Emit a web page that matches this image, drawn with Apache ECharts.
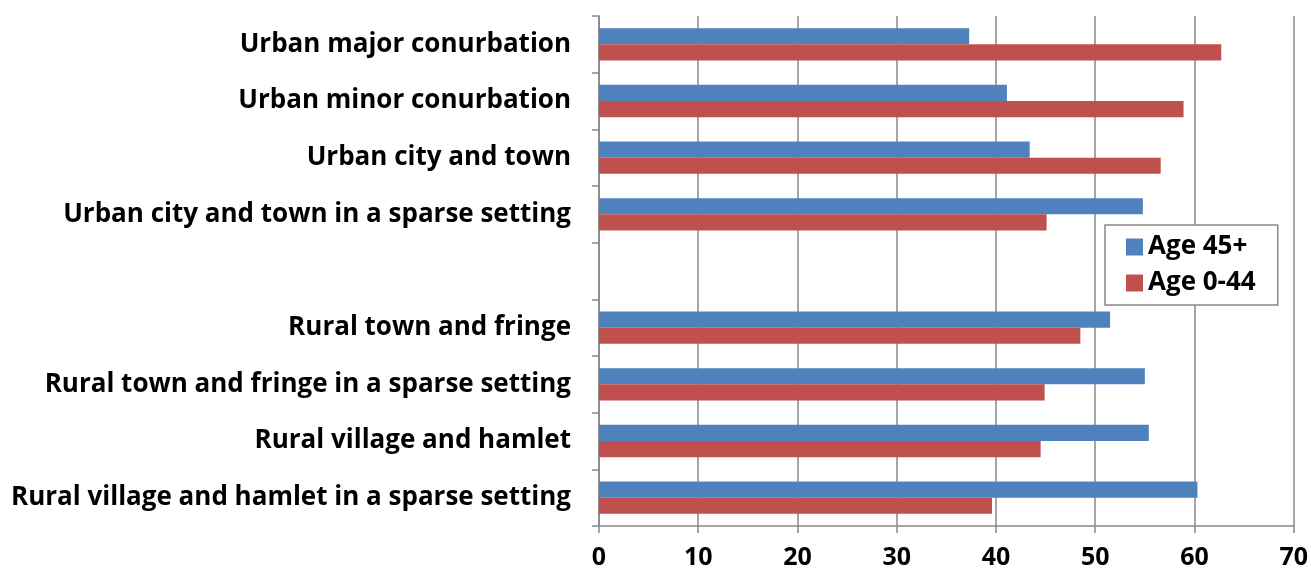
<!DOCTYPE html>
<html><head><meta charset="utf-8">
<script src="https://cdn.jsdelivr.net/npm/echarts@6/dist/echarts.min.js"></script>
<style>html,body{margin:0;padding:0;background:#fff}#c{width:1311px;height:578px}</style>
</head><body><div id="c"></div>
<script>
const categories = [
  'Urban major conurbation',
  'Urban minor conurbation',
  'Urban city and town',
  'Urban city and town in a sparse setting',
  '',
  'Rural town and fringe',
  'Rural town and fringe in a sparse setting',
  'Rural village and hamlet',
  'Rural village and hamlet in a sparse setting'
];
const age45plus = [37.3, 41.1, 43.4, 54.8, null, 51.5, 55.0, 55.4, 60.3];
const age0to44 = [62.7, 58.9, 56.6, 45.1, null, 48.5, 44.9, 44.5, 39.6];
const xTicks = [0, 10, 20, 30, 40, 50, 60, 70];

const FONT = 'Open Sans';
const chart = echarts.init(document.getElementById('c'), null, {renderer: 'canvas'});
chart.setOption({
  animation: false,
  textStyle: {fontFamily: FONT},
  grid: {left: 599, right: 15, top: 16, bottom: 52, containLabel: false},
  legend: {
    orient: 'vertical',
    left: 1105, top: 225,
    padding: [9, 22, 9, 21],
    borderColor: '#888', borderWidth: 1.5,
    backgroundColor: '#fff',
    itemWidth: 17, itemHeight: 17, itemGap: 10,
    icon: 'rect',
    textStyle: {fontFamily: FONT, fontWeight: 'bold', fontSize: 26, color: '#000'},
    data: ['Age 45+', 'Age 0-44']
  },
  xAxis: {
    type: 'value', min: xTicks[0], max: xTicks[xTicks.length - 1], interval: 10,
    axisLine: {show: true, lineStyle: {color: '#888', width: 1.5}},
    axisTick: {show: true, length: 7, lineStyle: {color: '#888', width: 1.5}},
    splitLine: {show: true, lineStyle: {color: '#888', width: 1.5}},
    axisLabel: {fontFamily: FONT, fontWeight: 'bold', fontSize: 25, color: '#000', margin: 19}
  },
  yAxis: {
    type: 'category', data: categories, inverse: true,
    axisLine: {show: true, lineStyle: {color: '#888', width: 1.5}},
    axisTick: {show: true, length: 7, lineStyle: {color: '#888', width: 1.5}},
    axisLabel: {fontFamily: FONT, fontWeight: 'bold', fontSize: 26, color: '#000', margin: 28}
  },
  series: [
    {name: 'Age 45+', type: 'bar', data: age45plus, barGap: '0%', barCategoryGap: '43%',
     itemStyle: {color: '#4F81BD'}},
    {name: 'Age 0-44', type: 'bar', data: age0to44, barGap: '0%', barCategoryGap: '43%',
     itemStyle: {color: '#C0504D'}}
  ]
});
</script></body></html>
